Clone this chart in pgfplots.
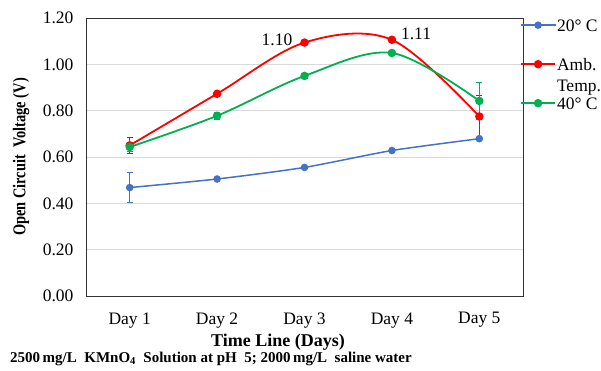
\documentclass[border=0pt]{standalone}
\usepackage{pgfplots}
\pgfplotsset{compat=1.18}
\usepackage{fontspec}
\setmainfont{Liberation Serif}
\usepackage{graphicx}
\definecolor{cblue}{RGB}{68,114,196}
\definecolor{cred}{RGB}{255,0,0}
\definecolor{cgreen}{RGB}{0,176,80}
\newcommand{\lstrut}{\rule[-12.5pt]{0pt}{37pt}}
\begin{document}
\begin{tikzpicture}
\begin{axis}[
  name=ax,
  scale only axis, width=437pt, height=278pt,
  xmin=0.5, xmax=5.5, ymin=0, ymax=1.2,
  xtick={1,2,3,4,5}, xticklabels={Day 1,Day 2,Day 3,Day 4,Day 5},
  ytick={0,0.2,...,1.21},
  yticklabel style={xshift=-9pt, /pgf/number format/.cd,fixed,fixed zerofill,precision=2},
  /pgf/number format/assume math mode=true,
  ticklabel style={font=\fontsize{17.5}{20}\selectfont},
  xticklabel style={yshift=-13pt},
  major tick length=0pt,
  ymajorgrids, grid style={gray!30, line width=0.8pt},
  axis line style={black!80, line width=0.8pt},
  xlabel={\textbf{Time Line (Days)}},
  ylabel={\scalebox{0.8}[1]{\textbf{Open Circuit\ \ Voltage (V)}}},
  label style={font=\fontsize{18}{20}\selectfont},
  xlabel style={at={(rel axis cs:0,0)}, anchor=center, xshift=192pt, yshift=-46pt},
  ylabel style={at={(rel axis cs:0,0.5)}, anchor=center, yshift=65pt},
  legend style={at={(1,1)}, anchor=north west, xshift=-3pt, yshift=12.5pt, draw=none, fill=none,
    font=\fontsize{17.5}{20}\selectfont, inner sep=0pt,
    nodes={inner sep=1pt, text depth=}, cells={anchor=west}},
  legend image code/.code={
    \draw[#1, mark repeat=2, mark phase=2] plot coordinates {(0pt,0pt) (17pt,0pt) (34pt,0pt)};},
  clip=false,
]
\addplot[cblue, line width=1.5pt, mark=*, mark size=3pt, smooth, tension=0.4,
  error bars/.cd, y dir=both, y explicit, error bar style={line width=0.8pt}, error mark options={rotate=90, mark size=3pt, line width=0.8pt}]
  coordinates {(1,0.468) +- (0,0.065) (2,0.505) +- (0,0.005) (3,0.555) +- (0,0.005) (4,0.628) +- (0,0.005) (5,0.679) +- (0,0.005)};
\addlegendentry{\lstrut 20° C}
\addplot[cred, line width=1.8pt, mark=*, mark size=3.3pt, smooth, tension=0.55,
  error bars/.cd, y dir=both, y explicit, error bar style={line width=0.8pt}, error mark options={rotate=90, mark size=3pt, line width=0.8pt}]
  coordinates {(1,0.650) +- (0,0.035) (2,0.873) +- (0,0.012) (3,1.094) +- (0,0.008) (4,1.106) +- (0,0.008) (5,0.775) +- (0,0.09)};
\addlegendentry{\lstrut\smash{\begin{tabular}[t]{@{}l@{}}Amb.\\[1pt]Temp.\end{tabular}}}
\addplot[cgreen, line width=1.8pt, mark=*, mark size=3.3pt, smooth, tension=0.55,
  error bars/.cd, y dir=both, y explicit, error bar style={line width=0.8pt}, error mark options={rotate=90, mark size=3pt, line width=0.8pt}]
  coordinates {(1,0.643) +- (0,0.02) (2,0.778) +- (0,0.015) (3,0.950) +- (0,0.01) (4,1.049) +- (0,0.008) (5,0.842) +- (0,0.078)};
\addlegendentry{\lstrut 40° C}
\node[font=\fontsize{17.5}{20}\selectfont] at (axis cs:2.685,1.105) {1.10};
\node[font=\fontsize{17.5}{20}\selectfont] at (axis cs:4.276,1.132) {1.11};
\node[anchor=west, font=\bfseries\fontsize{15}{17}\selectfont, inner sep=0pt, xshift=-76pt, yshift=-63pt] at (rel axis cs:0,0)
  {2500\,mg/L\ \ KMnO\textsubscript{4}\ \ Solution at pH\ \ 5; 2000\,mg/L\ \ saline water};
\end{axis}
\pgfresetboundingbox
\path[use as bounding box] ([shift={(-86pt,-75pt)}]ax.south west) rectangle ([shift={(78pt,18pt)}]ax.north east);
\end{tikzpicture}
\end{document}
